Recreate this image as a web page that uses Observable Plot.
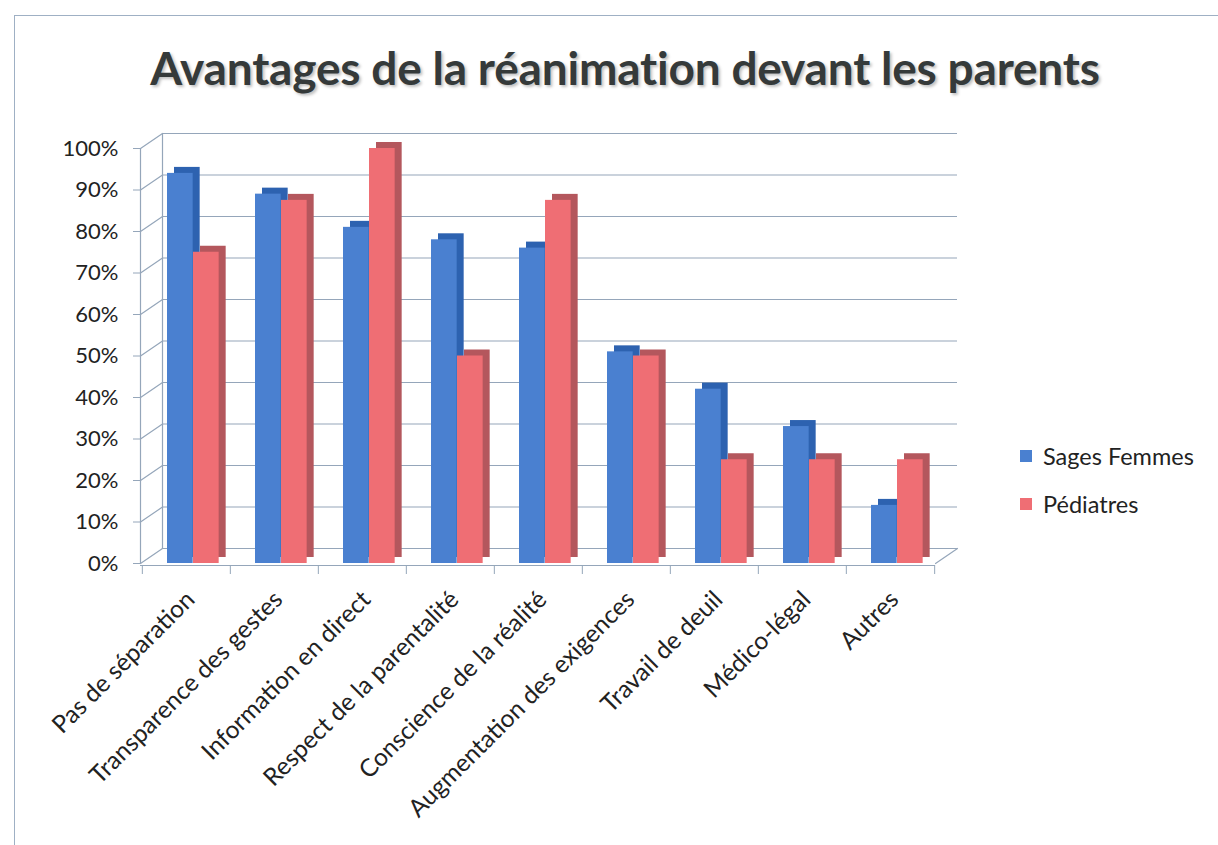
<!DOCTYPE html>
<html>
<head>
<meta charset="utf-8">
<script src="https://cdn.jsdelivr.net/npm/d3@7"></script>
<script src="https://cdn.jsdelivr.net/npm/@observablehq/plot@0.6"></script>
<style>
  html, body { margin: 0; padding: 0; background: #fff; }
  #wrap { position: relative; width: 1218px; height: 845px; overflow: hidden; font-family: Lato, "Open Sans", sans-serif; }
  #border { position: absolute; left: 14px; top: 15px; width: 1220px; height: 840px; border: 1px solid #9fb0c4; box-sizing: border-box; }
  #title { position: absolute; left: 0; width: 1250px; top: 40px; text-align: center; font-size: 46px; font-weight: 700; color: #353a3a; text-shadow: 2px 2px 3px rgba(0,0,0,0.25); letter-spacing: -0.2px; }
  #chart { position: absolute; left: 0; top: 0; }
  .leg { position: absolute; left: 1020px; font-size: 23.5px; color: #222; display: flex; align-items: center; }
  .leg span.sw { display: inline-block; width: 12px; height: 12px; margin-right: 11px; }
</style>
</head>
<body>
<div id="wrap">
  <div id="border"></div>
  <div id="chart"></div>
  <div id="title">Avantages de la réanimation devant les parents</div>
  <div id="legend"></div>
</div>
<script>
const categories = ["Pas de séparation", "Transparence des gestes", "Information en direct", "Respect de la parentalité", "Conscience de la réalité", "Augmentation des exigences", "Travail de deuil", "Médico-légal", "Autres"];
const series = ["Sages Femmes", "Pédiatres"];
const sagesFemmes = [0.94, 0.89, 0.81, 0.78, 0.76, 0.51, 0.42, 0.33, 0.14];
const pediatres = [0.75, 0.875, 1.0, 0.50, 0.875, 0.50, 0.25, 0.25, 0.25];
const yTicks = [0, 0.1, 0.2, 0.3, 0.4, 0.5, 0.6, 0.7, 0.8, 0.9, 1.0];

const frontColors = ["#4a80d0", "#ef6e74"];
const sideColors = ["#2d62b0", "#b4575d"];
const gridColor = "#95a6ba";

const sfRows = categories.map((c, i) => ({category: c, series: series[0], value: sagesFemmes[i]}));
const pdRows = categories.map((c, i) => ({category: c, series: series[1], value: pediatres[i]}));

const W = 1218, H = 845, ML = 140, MR = 283, MT = 148, MB = 282;
const bw = (W - ML - MR) / categories.length;
const depthX = 22, depthY = -15;
const barDX = 7, barDY = -6;
const line = {draw(ctx, l) { ctx.moveTo(0, 0); ctx.lineTo(0, -l); }};

const chart = Plot.plot({
  width: W, height: H,
  marginLeft: ML, marginRight: MR, marginTop: MT, marginBottom: MB,
  style: {fontFamily: "Lato, 'Open Sans', sans-serif", color: "#222", background: "transparent", overflow: "visible"},
  x: {domain: categories, padding: 0},
  y: {domain: [0, 1]},
  marks: [
    // back wall gridlines
    Plot.ruleY(yTicks, {y: d => d, stroke: gridColor, strokeWidth: 1.2, dx: depthX, dy: depthY}),
    // side wall diagonals
    Plot.vector(yTicks, {y: d => d, frameAnchor: "left", length: Math.hypot(depthX, depthY), rotate: Math.atan2(depthX, -depthY) * 180 / Math.PI, anchor: "start", shape: line, stroke: gridColor, strokeWidth: 1.2, fill: "none"}),
    // floor right diagonal
    Plot.vector([0], {y: d => d, frameAnchor: "right", length: Math.hypot(depthX, depthY), rotate: Math.atan2(depthX, -depthY) * 180 / Math.PI, anchor: "start", shape: line, stroke: gridColor, strokeWidth: 1.2, fill: "none"}),
    // back wall left edge & front axis line
    Plot.frame({anchor: "left", stroke: gridColor, strokeWidth: 1.2, dx: depthX, dy: depthY}),
    Plot.frame({anchor: "left", stroke: gridColor, strokeWidth: 1.2}),
    Plot.ruleY([0], {stroke: gridColor, strokeWidth: 1.2, dy: 2}),
    // bars: Sages Femmes
    Plot.barY(sfRows, {x: "category", y: "value", fill: sideColors[0], insetLeft: 25, insetRight: bw - 51, dx: barDX, dy: barDY}),
    Plot.barY(sfRows, {x: "category", y: "value", fill: frontColors[0], insetLeft: 25, insetRight: bw - 51}),
    // bars: Pédiatres
    Plot.barY(pdRows, {x: "category", y: "value", fill: sideColors[1], insetLeft: 51, insetRight: bw - 77, dx: barDX, dy: barDY}),
    Plot.barY(pdRows, {x: "category", y: "value", fill: frontColors[1], insetLeft: 51, insetRight: bw - 77}),
    // y axis
    Plot.axisY({ticks: yTicks, tickFormat: d3.format(".0%"), tickSize: 7, tickPadding: 15, fontSize: 22, stroke: gridColor, label: null}),
    // boundary ticks on the floor
    Plot.axisX({tickSize: 9, tickFormat: () => "", dx: -bw / 2, dy: 2, stroke: gridColor, label: null}),
    Plot.axisX([categories[categories.length - 1]], {tickSize: 9, tickFormat: () => "", dx: bw / 2, dy: 2, stroke: gridColor, label: null}),
    // category labels
    Plot.axisX({tickSize: 0, tickRotate: -45, tickPadding: 32, dx: 4, fontSize: 24.5, label: null})
  ]
});
document.getElementById("chart").appendChild(chart);

const legend = document.getElementById("legend");
series.forEach((s, i) => {
  const d = document.createElement("div");
  d.className = "leg";
  d.style.top = (442 + i * 48) + "px";
  d.innerHTML = `<span class="sw" style="background:${frontColors[i]}"></span>${s}`;
  legend.appendChild(d);
});
</script>
</body>
</html>
